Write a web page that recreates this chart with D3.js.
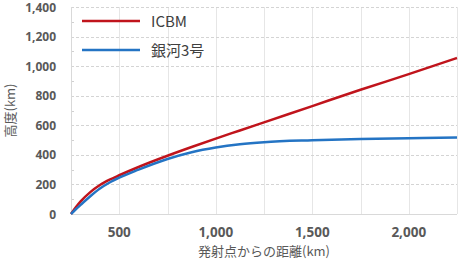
<!DOCTYPE html>
<html>
<head>
  <style>
    body { margin: 0; background: #fff; }
    #chart { width: 474px; height: 260px; }
    .tick-label { font-family: 'Open Sans', sans-serif; font-weight: bold; fill: #595959; }
    .axis-title { font-family: 'Noto Sans CJK JP', sans-serif; font-size: 13px; fill: #595959; }
    .legend-text { font-family: 'Noto Sans CJK JP', sans-serif; font-size: 15px; fill: #404040; }
  </style>
</head>
<body>
  <div id="chart"></div>

  <script src="https://d3js.org/d3.v7.min.js"></script>
  <script>
    // Data (distance from launch point, km -> altitude, km)
    const distances = [250, 275, 300, 350, 400, 450, 500, 600, 750, 875, 1000, 1125, 1250, 1500, 1750, 2000, 2250];
    const icbm      = [0, 45, 85, 148, 196, 232, 262, 318, 394, 453, 510, 565, 620, 730, 840, 946, 1055];
    const ginga3    = [0, 32, 62, 120, 172, 213, 246, 300, 372, 418, 450, 472, 486, 499, 507, 513, 518];
    const seriesNames = ["ICBM", "銀河3号"];
    const seriesColors = ["#c0141c", "#2474c4"];
    const xTicks = [500, 1000, 1500, 2000];
    const xGrid = [500, 750, 1000, 1250, 1500, 1750, 2000, 2250];
    const yTicks = [0, 200, 400, 600, 800, 1000, 1200, 1400];
    const yMinor = [100, 300, 500, 700, 900, 1100, 1300];

    const svg = d3.select("#chart")
      .append("svg")
      .attr("width", 474)
      .attr("height", 260);

    const plotLeft = 71, plotRight = 457, plotTop = 7, plotBottom = 214;

    const x = d3.scaleLinear().domain([250, 2250]).range([plotLeft, plotRight]);
    const y = d3.scaleLinear().domain([0, 1400]).range([plotBottom, plotTop]);

    // vertical gridlines
    svg.append("g")
      .selectAll("line")
      .data(xGrid)
      .enter()
      .append("line")
      .attr("x1", d => Math.round(x(d)) + 0.5)
      .attr("x2", d => Math.round(x(d)) + 0.5)
      .attr("y1", plotTop)
      .attr("y2", plotBottom)
      .attr("stroke", "#e6e6e6")
      .attr("stroke-width", 1);

    // horizontal dashed gridlines
    svg.append("g")
      .selectAll("line")
      .data(yTicks.filter(d => d > 0))
      .enter()
      .append("line")
      .attr("x1", plotLeft)
      .attr("x2", plotRight)
      .attr("y1", d => Math.round(y(d)) + 0.5)
      .attr("y2", d => Math.round(y(d)) + 0.5)
      .attr("stroke", "#d4d4d4")
      .attr("stroke-dasharray", "3,2")
      .attr("stroke-width", 1);

    // minor ticks on y axis
    svg.append("g")
      .selectAll("line")
      .data(yMinor)
      .enter()
      .append("line")
      .attr("x1", plotLeft)
      .attr("x2", plotLeft + 3)
      .attr("y1", d => Math.round(y(d)) + 0.5)
      .attr("y2", d => Math.round(y(d)) + 0.5)
      .attr("stroke", "#d0d0d0");

    // axis lines
    svg.append("line")
      .attr("x1", plotLeft + 0.5).attr("x2", plotLeft + 0.5)
      .attr("y1", plotTop).attr("y2", plotBottom)
      .attr("stroke", "#d9d9d9");
    svg.append("line")
      .attr("x1", plotLeft).attr("x2", plotRight)
      .attr("y1", plotBottom + 0.5).attr("y2", plotBottom + 0.5)
      .attr("stroke", "#d9d9d9");

    // y tick labels
    svg.append("g")
      .selectAll("text")
      .data(yTicks)
      .enter()
      .append("text")
      .attr("class", "tick-label")
      .attr("x", 56)
      .attr("y", d => y(d) + 4.5)
      .attr("text-anchor", "end")
      .attr("font-size", "12px")
      .text(d => d3.format(",")(d));

    // x tick labels
    svg.append("g")
      .selectAll("text")
      .data(xTicks)
      .enter()
      .append("text")
      .attr("class", "tick-label")
      .attr("x", d => x(d))
      .attr("y", 237)
      .attr("text-anchor", "middle")
      .attr("font-size", "13.5px")
      .text(d => d3.format(",")(d));

    // axis titles
    svg.append("text")
      .attr("class", "axis-title")
      .attr("x", (plotLeft + plotRight) / 2)
      .attr("y", 256)
      .attr("text-anchor", "middle")
      .text("発射点からの距離(km)");

    svg.append("text")
      .attr("class", "axis-title")
      .attr("transform", `translate(15, ${(plotTop + plotBottom) / 2}) rotate(-90)`)
      .attr("text-anchor", "middle")
      .text("高度(km)");

    // lines
    const line = d3.line()
      .x(d => x(d[0]))
      .y(d => y(d[1]))
      .curve(d3.curveMonotoneX);

    [icbm, ginga3].forEach((values, i) => {
      svg.append("path")
        .datum(distances.map((d, j) => [d, values[j]]))
        .attr("fill", "none")
        .attr("stroke", seriesColors[i])
        .attr("stroke-width", 2.5)
        .attr("d", line);
    });

    // legend
    const legend = svg.append("g");
    seriesNames.forEach((name, i) => {
      const ly = 21 + i * 29;
      legend.append("line")
        .attr("x1", 82).attr("x2", 140)
        .attr("y1", ly).attr("y2", ly)
        .attr("stroke", seriesColors[i])
        .attr("stroke-width", 2.5);
      legend.append("text")
        .attr("class", "legend-text")
        .attr("x", 151)
        .attr("y", ly + 5.5)
        .text(name);
    });
  </script>
</body>
</html>
